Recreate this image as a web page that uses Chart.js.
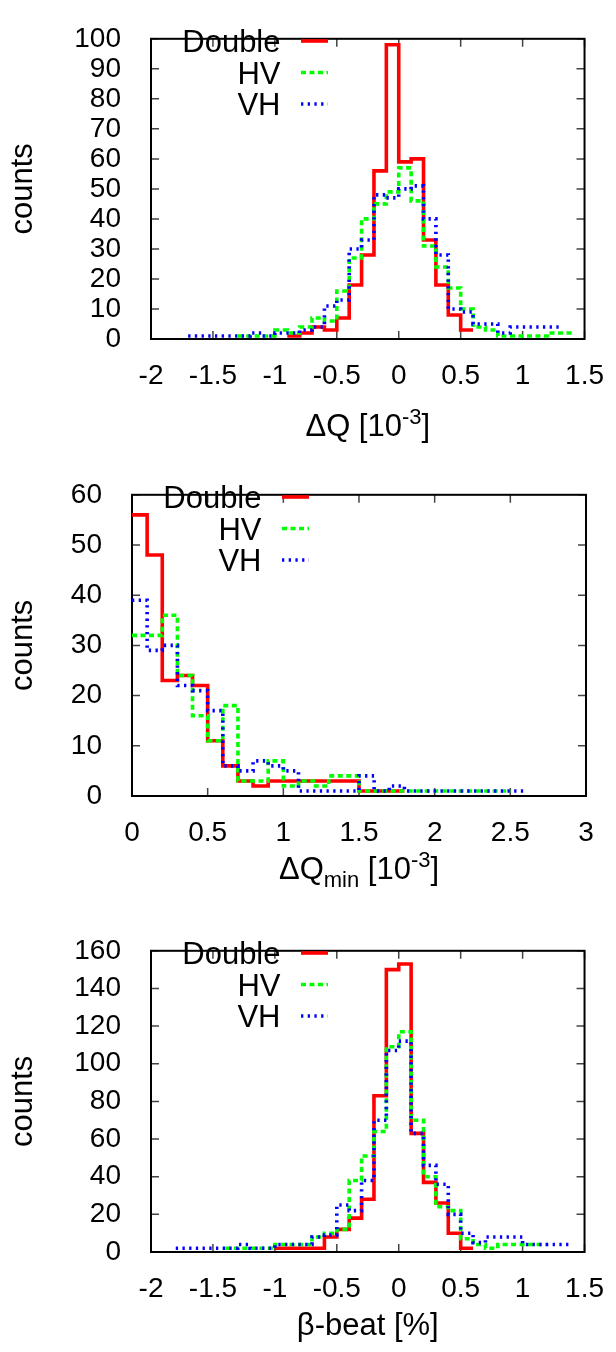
<!DOCTYPE html>
<html>
<head>
<meta charset="utf-8">
<script src="https://cdn.jsdelivr.net/npm/chart.js@4/dist/chart.umd.min.js"></script>
<style>
  body { margin: 0; background: #fff; width: 616px; height: 1352px; position: relative; overflow: hidden; }
  .panel { position: absolute; left: 0; width: 616px; }
  canvas { display: block; }
</style>
</head>
<body>
<div class="panel" style="top:0;height:456px"><canvas id="c1" width="616" height="456"></canvas></div>
<div class="panel" style="top:456px;height:456px"><canvas id="c2" width="616" height="456"></canvas></div>
<div class="panel" style="top:912px;height:440px"><canvas id="c3" width="616" height="440"></canvas></div>
<script>
// ---- data: histogram bin edges and counts (null = no entry) ----
const dqEdges = [-1.7,-1.6,-1.5,-1.4,-1.3,-1.2,-1.1,-1.0,-0.9,-0.8,-0.7,-0.6,-0.5,-0.4,-0.3,-0.2,-0.1,0,
  0.1,0.2,0.3,0.4,0.5,0.6,0.7,0.8,0.9,1.0,1.1,1.2,1.3,1.4];
const dqDouble = [null,null,null,null,null,null,null,null,
  1,2,4,3,7,18,28,56,98,59,60,33,18,8,3,
  null,null,null,null,null,null,null,null];
const dqHV = [null,null,null,null,
  1,1,1,3,2,4,7,6,16,27,40,45,49,57,46,31,24,17,10,4,3,1,1,1,1,2,2];
const dqVH = [1,1,1,1,1,2,1,2,2,3,4,11,13,30,33,48,47,50,51,40,28,10,9,5,5,2,4,4,4,4,null];
const dqXTicks = [-2,-1.5,-1,-0.5,0,0.5,1,1.5];
const dqYTicks = [0,10,20,30,40,50,60,70,80,90,100];

const dqminEdges = [0,0.1,0.2,0.3,0.4,0.5,0.6,0.7,0.8,0.9,1.0,1.1,1.2,1.3,1.4,1.5,1.6,1.7,1.8,1.9,
  2.0,2.1,2.2,2.3,2.4,2.5,2.6];
const dqminDouble = [56,48,23,24,22,11,6,3,2,3,3,3,3,3,3,1,1,1,
  null,null,null,null,null,null,null,null];
const dqminHV = [32,32,36,24,16,11,18,3,3,7,2,3,2,4,4,1,1,1,1,1,1,1,1,1,1,null];
const dqminVH = [39,29,30,22,21,17,6,5,7,6,5,1,1,1,1,4,1,2,1,1,1,1,1,1,1,1];
const dqminXTicks = [0,0.5,1,1.5,2,2.5,3];
const dqminYTicks = [0,10,20,30,40,50,60];

const betaEdges = [-1.8,-1.7,-1.6,-1.5,-1.4,-1.3,-1.2,-1.1,-1.0,-0.9,-0.8,-0.7,-0.6,-0.5,-0.4,-0.3,-0.2,-0.1,0,
  0.1,0.2,0.3,0.4,0.5,0.6,0.7,0.8,0.9,1.0,1.1,1.2,1.3,1.4];
const betaDouble = [null,null,null,null,null,null,null,null,
  2,2,2,2,8,12,18,28,83,150,153,63,37,26,10,2,
  null,null,null,null,null,null,null,null];
const betaHV = [null,null,null,null,
  2,2,2,2,4,4,4,8,10,12,38,51,64,109,117,70,40,24,22,7,4,2,4,4,4,4,
  null,null];
const betaVH = [2,2,2,2,2,4,2,2,4,4,4,8,9,25,22,38,70,107,112,63,46,36,20,10,5,8,8,8,4,4,4,4];
const betaXTicks = [-2,-1.5,-1,-0.5,0,0.5,1,1.5];
const betaYTicks = [0,20,40,60,80,100,120,140,160];

const seriesNames = ['Double', 'HV', 'VH'];

// ---- helpers ----
const FONT = '"Liberation Sans", Arial, sans-serif';
Chart.defaults.font.family = FONT;

// points at the left edge of each bin, plus the right edge of the last bin
function stepPoints(edges, counts) {
  const pts = [];
  let last = -1;
  counts.forEach((c, i) => {
    if (c !== null) { pts.push({ x: edges[i], y: c }); last = i; }
  });
  if (last >= 0) pts.push({ x: edges[last + 1], y: counts[last] });
  return pts;
}

const styles = [
  { borderColor: '#ff0000', borderWidth: 3.6, borderDash: [], order: 2 },
  { borderColor: '#00ff00', borderWidth: 3.6, borderDash: [5, 3.5], order: 1 },
  { borderColor: '#0000ff', borderWidth: 3.6, borderDash: [2.3, 4.4], order: 0 }
];

const deco = {};

// frame + inward ticks on all four sides
const framePlugin = {
  id: 'frame',
  beforeDatasetsDraw(chart) {
    const { ctx, chartArea: a, scales: { x, y } } = chart;
    ctx.save();
    ctx.strokeStyle = '#444';
    ctx.lineWidth = 1.5;
    ctx.beginPath();
    x.ticks.forEach(t => {
      const px = x.getPixelForValue(t.value);
      ctx.moveTo(px, a.bottom); ctx.lineTo(px, a.bottom - 8);
      ctx.moveTo(px, a.top); ctx.lineTo(px, a.top + 8);
    });
    y.ticks.forEach(t => {
      const py = y.getPixelForValue(t.value);
      ctx.moveTo(a.left, py); ctx.lineTo(a.left + 8, py);
      ctx.moveTo(a.right, py); ctx.lineTo(a.right - 8, py);
    });
    ctx.stroke();
    ctx.strokeStyle = '#000';
    ctx.lineWidth = 2;
    ctx.strokeRect(a.left, a.top, a.width, a.height);
    ctx.restore();
  }
};

// key and axis titles
const decoPlugin = {
  id: 'deco',
  afterDraw(chart) {
    const d = deco[chart.canvas.id];
    const { ctx, chartArea: a } = chart;
    ctx.save();
    ctx.fillStyle = '#000';
    // legend
    ctx.font = '31px ' + FONT;
    ctx.textAlign = 'right';
    ctx.textBaseline = 'alphabetic';
    const rows = [41, 72.5, 104];
    chart.data.datasets.forEach((ds, i) => {
      const ry = rows[i];
      ctx.fillText(ds.label, a.left + 129.5, ry + 11);
      ctx.save();
      ctx.strokeStyle = ds.borderColor;
      ctx.lineWidth = ds.borderWidth;
      ctx.setLineDash(ds.borderDash);
      ctx.beginPath();
      ctx.moveTo(a.left + 150, ry);
      ctx.lineTo(a.left + 177, ry);
      ctx.stroke();
      ctx.restore();
    });
    // y title
    ctx.save();
    ctx.translate(23, (a.top + a.bottom) / 2);
    ctx.rotate(-Math.PI / 2);
    ctx.textAlign = 'center';
    ctx.textBaseline = 'middle';
    ctx.font = '31px ' + FONT;
    ctx.fillText('counts', 0, 0);
    ctx.restore();
    // x title with super/subscripts
    const parts = d.xTitle;
    const big = '31px ' + FONT, small = '22px ' + FONT;
    ctx.textAlign = 'left';
    let w = 0;
    parts.forEach(p => { ctx.font = p.s ? small : big; w += ctx.measureText(p.t).width; });
    let xx = (a.left + a.right) / 2 - w / 2;
    const base = d.xTitleY + 11;
    parts.forEach(p => {
      ctx.font = p.s ? small : big;
      const dy = p.s === 'sup' ? -12 : (p.s === 'sub' ? 8 : 0);
      ctx.fillText(p.t, xx, base + dy);
      xx += ctx.measureText(p.t).width;
    });
    ctx.restore();
  }
};

function makeChart(id, box, edges, series, xTicks, yTicks, xTitle, xTitleY) {
  deco[id] = { xTitle, xTitleY };
  const datasets = series.map((vals, i) => Object.assign({
    label: seriesNames[i],
    data: stepPoints(edges, vals),
    stepped: true,
    pointRadius: 0,
    fill: false,
    borderCapStyle: 'butt',
    borderJoinStyle: 'miter'
  }, styles[i]));
  new Chart(document.getElementById(id), {
    type: 'line',
    data: { datasets },
    options: {
      responsive: false,
      animation: false,
      layout: { padding: { top: box.T, right: 616 - box.R, left: 0, bottom: 0 } },
      plugins: { legend: { display: false }, tooltip: { enabled: false } },
      scales: {
        x: {
          type: 'linear',
          min: xTicks[0], max: xTicks[xTicks.length - 1],
          grid: { display: false },
          border: { display: false },
          afterBuildTicks: s => { s.ticks = xTicks.map(v => ({ value: v })); },
          afterFit: s => { s.height = box.H - box.B; },
          ticks: { color: '#000', font: { size: 28 }, padding: 12, maxRotation: 0, autoSkip: false,
                   callback: v => String(v) }
        },
        y: {
          type: 'linear',
          min: yTicks[0], max: yTicks[yTicks.length - 1],
          grid: { display: false },
          border: { display: false },
          afterBuildTicks: s => { s.ticks = yTicks.map(v => ({ value: v })); },
          afterFit: s => { s.width = box.L; },
          ticks: { color: '#000', font: { size: 28 }, padding: 22, autoSkip: false,
                   callback: v => String(v) }
        }
      }
    },
    plugins: [framePlugin, decoPlugin]
  });
}

makeChart('c1', { H: 456, T: 18, B: 339, L: 151, R: 586 }, dqEdges,
  [dqDouble, dqHV, dqVH], dqXTicks, dqYTicks,
  [{ t: '\u0394Q [10' }, { t: '-3', s: 'sup' }, { t: ']' }], 425);

makeChart('c2', { H: 456, T: 18, B: 340, L: 132, R: 586 }, dqminEdges,
  [dqminDouble, dqminHV, dqminVH], dqminXTicks, dqminYTicks,
  [{ t: '\u0394Q' }, { t: 'min', s: 'sub' }, { t: ' [10' }, { t: '-3', s: 'sup' }, { t: ']' }], 412);

makeChart('c3', { H: 440, T: 19, B: 340, L: 151, R: 586 }, betaEdges,
  [betaDouble, betaHV, betaVH], betaXTicks, betaYTicks,
  [{ t: '\u03b2-beat [%]' }], 412);
</script>
</body>
</html>
